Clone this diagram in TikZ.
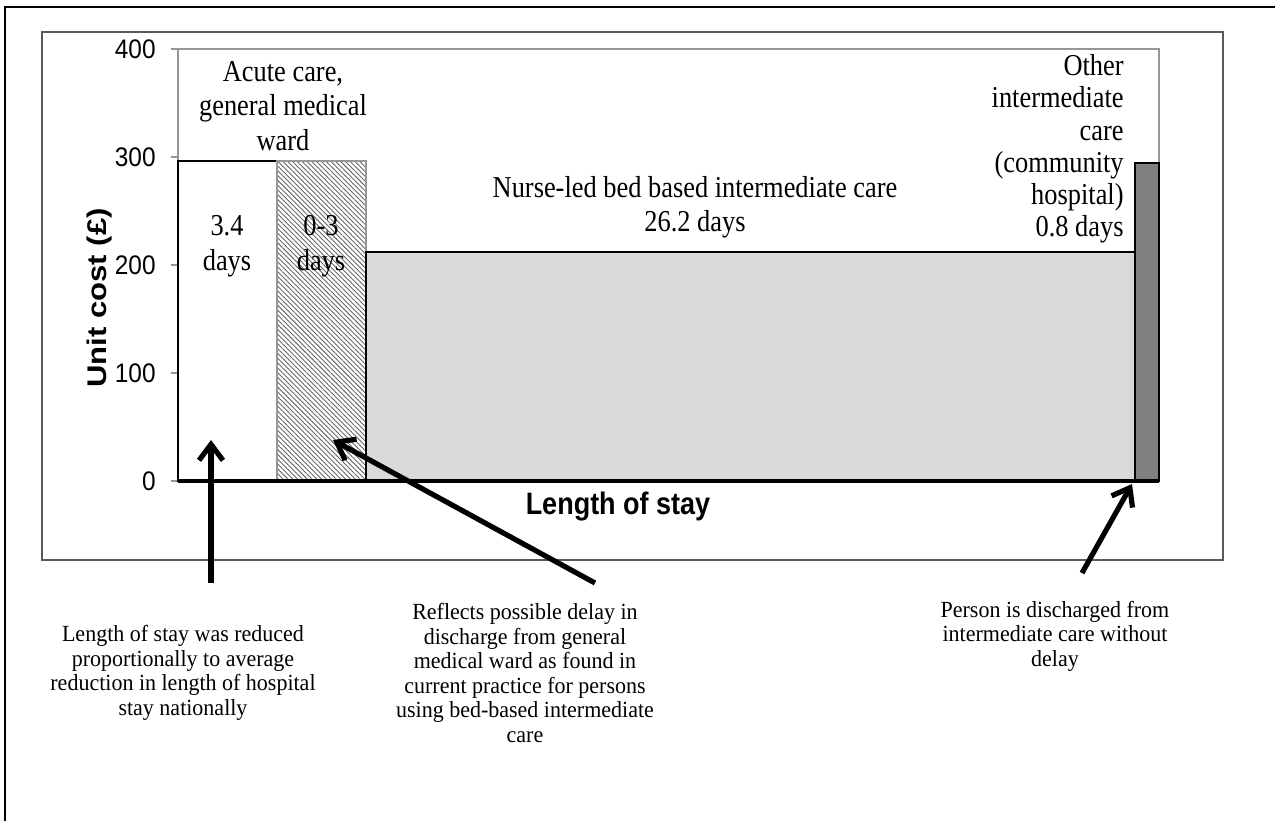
\documentclass[tikz,border=0pt]{standalone}
\usepackage{fontspec}
\setmainfont{Liberation Serif}
\setsansfont{Liberation Sans}
\usetikzlibrary{patterns.meta,arrows.meta}
\definecolor{barlight}{HTML}{D9D9D9}
\definecolor{bardark}{HTML}{808080}
\definecolor{plotgray}{HTML}{969696}
\definecolor{chartgray}{HTML}{595959}
\tikzset{
	lbl/.style={font=\fontsize{13.2}{15}\selectfont,align=center,inner sep=0pt,yscale=1.15},
	note/.style={font=\fontsize{11}{11.7}\selectfont,align=center,inner sep=0pt,yscale=1.05},
	ticklbl/.style={font=\sffamily\fontsize{12.2}{14}\selectfont,anchor=east,inner sep=0pt,yscale=1.1},
	axislbl/.style={font=\sffamily\bfseries\fontsize{13.5}{15}\selectfont,inner sep=0pt},
	pointer/.style={line width=2.6pt,-{Straight Barb[length=8pt,width=12pt]}},
	bar/.style={line width=1.3pt}
}
\begin{document}
\begin{tikzpicture}[x=0.5pt,y=-0.5pt]
	\useasboundingbox (0,0) rectangle (1275,821);
	\draw[line width=1.3pt](5,821)|-(1275,7);
	\draw[chartgray,line width=0.6pt](42,32)rectangle(1223,560);
	% plot area and ticks
	\draw[plotgray,line width=0.9pt](178,481)|-(1159,49)--(1159,163);
	\foreach \v/\y in {0/481,100/373,200/265,300/157,400/49}{
		\draw[plotgray,line width=0.9pt](171,\y)--(178,\y);
		\node[ticklbl](t\v) at (156,\y){\v};
	}
	% bars
	\draw[bar,fill=white](178,161)rectangle(277,481);
	\draw[bar,plotgray,pattern={Lines[angle=-45,distance=1.7pt,line width=0.45pt]},pattern color=black!60](277,161)rectangle(366,481);
	\draw[bar,fill=barlight](366,252)rectangle(1135,481);
	\draw[bar,fill=bardark](1135,163)rectangle(1159,481);
	\draw[line width=1.6pt](178,481)--(1159,481);
	% axis titles
	\node[axislbl,yscale=1.15,rotate=90](ytitle) at (100,298){Unit cost (£)};
	\node[axislbl,yscale=1.15](xtitle) at (618,507){Length of stay};
	% labels in the chart
	\node[lbl](acute) at (283,106){Acute care,\\general medical\\ward};
	\node[lbl](acutedays) at (227,246){3.4\\days};
	\node[lbl](delaydays) at (321,246){0-3\\days};
	\node[lbl](nurse) at (695,207){Nurse-led bed based intermediate care\\26.2 days};
	\node[lbl,font=\fontsize{13.2}{14}\selectfont,align=right,anchor=east](other) at (1124,149){Other\\intermediate\\care\\(community\\hospital)\\0.8 days};
	% notes
	\node[note](cutnote) at (183,673){Length of stay was reduced\\proportionally to average\\reduction in length of hospital\\stay nationally};
	\node[note](delaynote) at (525,673){Reflects possible delay in\\discharge from general\\medical ward as found in\\current practice for persons\\using bed-based intermediate\\care};
	\node[note](exitnote) at (1055,636){Person is discharged from\\intermediate care without\\delay};
	% pointers
	\coordinate(cuttail) at (211,583);
	\coordinate(cuthead) at (211,440);
	\coordinate(delaytail) at (595,583);
	\coordinate(delayhead) at (333,440);
	\coordinate(exittail) at (1082,573);
	\coordinate(exithead) at (1132,484);
	\draw[pointer](cuttail)--(cuthead);
	\draw[pointer](delaytail)--(delayhead);
	\draw[pointer](exittail)--(exithead);
\end{tikzpicture}
\end{document}
